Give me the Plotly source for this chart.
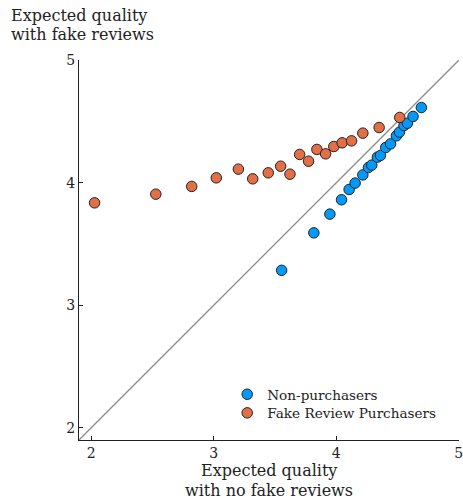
import plotly.graph_objects as go

# valores
non_x = [3.554, 3.817, 3.948, 4.043, 4.105, 4.154, 4.217, 4.263, 4.290, 4.336,
         4.361, 4.404, 4.443, 4.491, 4.516, 4.553, 4.581, 4.627, 4.695]
non_y = [3.285, 3.591, 3.744, 3.861, 3.945, 3.997, 4.064, 4.125, 4.144, 4.209,
         4.223, 4.288, 4.317, 4.383, 4.413, 4.467, 4.486, 4.541, 4.614]

fake_x = [2.027, 2.527, 2.820, 3.021, 3.201, 3.318, 3.445, 3.546, 3.622, 3.701,
          3.774, 3.842, 3.913, 3.980, 4.048, 4.125, 4.217, 4.350, 4.518]
fake_y = [3.836, 3.907, 3.970, 4.040, 4.111, 4.032, 4.081, 4.135, 4.070, 4.231,
          4.176, 4.272, 4.236, 4.296, 4.326, 4.342, 4.405, 4.451, 4.533]

diag = [1.9, 5.0]
ticks = [2, 3, 4, 5]

fonte = "DejaVu Serif"
preto = '#222222'

fig = go.Figure()

# linha de 45 graus
fig.add_trace(go.Scatter(x=diag, y=diag, mode='lines',
                         line=dict(color='#8c8c8c', width=1.3),
                         showlegend=False, hoverinfo='skip'))

fig.add_trace(go.Scatter(x=non_x, y=non_y, mode='markers', name='Non-purchasers',
                         legend='legend',
                         marker=dict(size=10.5, color='#009AFA',
                                     line=dict(color=preto, width=1))))

fig.add_trace(go.Scatter(x=fake_x, y=fake_y, mode='markers', name='Fake Review Purchasers',
                         legend='legend2',
                         marker=dict(size=10.5, color='#E26F46',
                                     line=dict(color=preto, width=1))))

eixo = dict(range=[1.9, 5.002], tickvals=ticks, showgrid=False, zeroline=False,
            showline=True, linecolor=preto, linewidth=1.2, automargin=False,
            ticks='inside', ticklen=4, tickcolor=preto, ticklabeloverflow='allow',
            tickfont=dict(family=fonte, size=14, color=preto))

leg = dict(x=0.39, xanchor='left', yanchor='middle', bgcolor='rgba(0,0,0,0)',
           font=dict(family=fonte, size=13.6, color=preto), itemwidth=30)

titulos = [
    ('Expected quality', -0.184, 1.118, 'left'),
    ('with fake reviews', -0.184, 1.068, 'left'),
    ('Expected quality', 0.5, -0.079, 'center'),
    ('with no fake reviews', 0.5, -0.132, 'center'),
]

fig.update_layout(
    width=463, height=499,
    plot_bgcolor='white', paper_bgcolor='white',
    margin=dict(l=79, r=4, t=60, b=59, autoexpand=False),
    xaxis=eixo, yaxis=eixo,
    font=dict(family=fonte, color=preto),
    legend=dict(leg, y=0.12),
    legend2=dict(leg, y=0.071),
    annotations=[dict(text=t, xref='paper', yref='paper', x=x, y=y,
                      xanchor=a, yanchor='middle', showarrow=False,
                      font=dict(family=fonte, size=16, color=preto))
                 for t, x, y, a in titulos],
)

fig.write_html("out.html", config={'displayModeBar': False})

# tira a margem padrao do body pra figura caber certinho na janela
with open("out.html", encoding="utf-8") as f:
    html = f.read()
html = html.replace("<head>", "<head><style>body{margin:0;overflow:hidden}</style>", 1)
with open("out.html", "w", encoding="utf-8") as f:
    f.write(html)
